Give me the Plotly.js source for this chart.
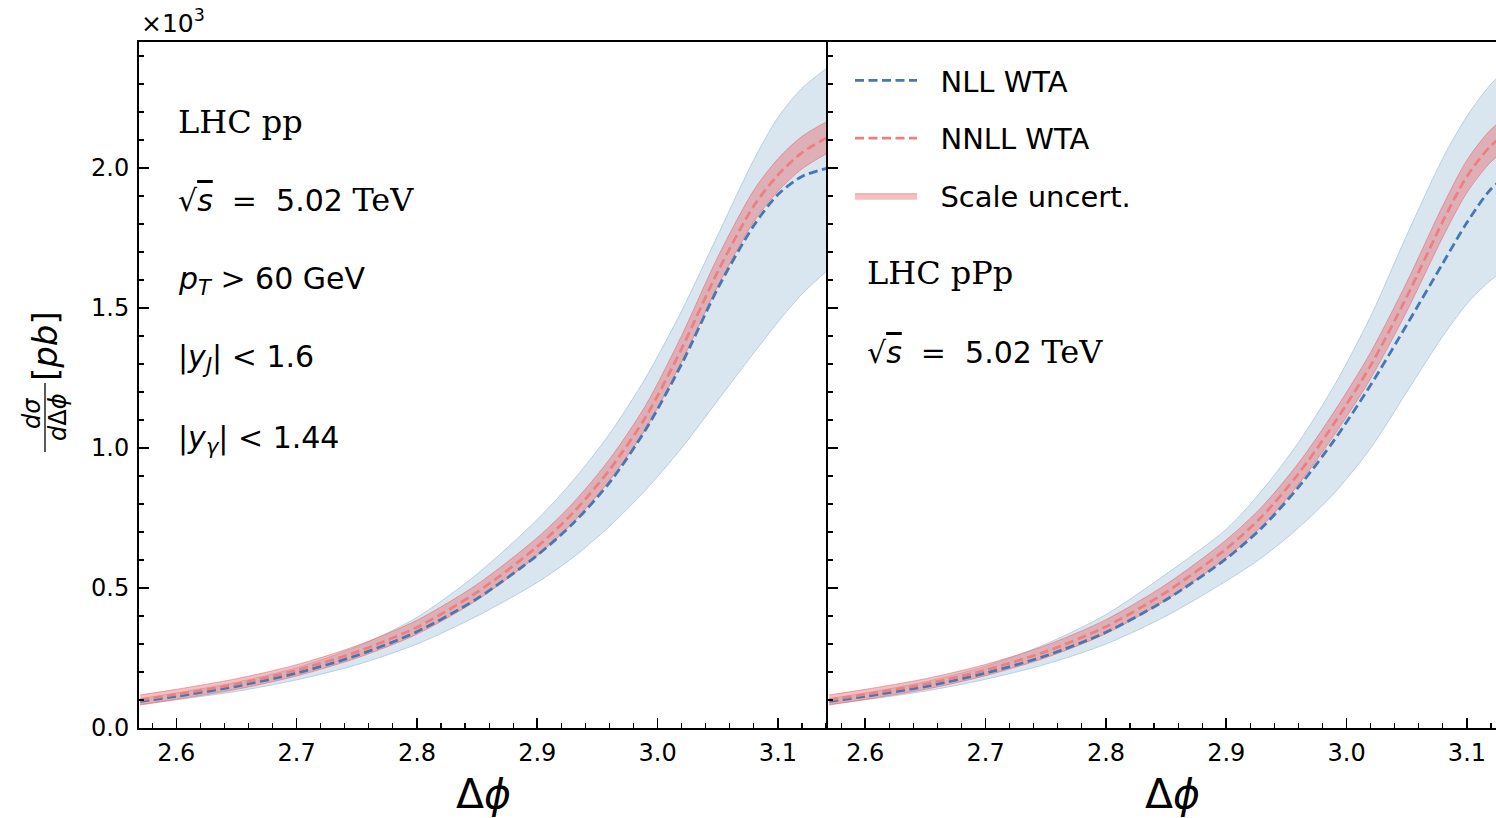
<!DOCTYPE html>
<html>
<head>
<meta charset="utf-8">
<script src="https://cdn.plot.ly/plotly-3.0.1.min.js"></script>
<style>
html,body{margin:0;padding:0;overflow:hidden;background:#fff;}
#plot{width:1518px;height:818px;}
</style>
</head>
<body>
<div id="plot"></div>
<script>
// Delta phi grid
const dphi = [2.57, 2.60, 2.65, 2.70, 2.75, 2.80, 2.85, 2.90, 2.93, 2.96, 2.99, 3.02, 3.05, 3.08, 3.10, 3.12, 3.1416];

// Left panel: LHC pp (values in units of 10^3 pb)
const ppNLL      = [0.095, 0.113, 0.149, 0.196, 0.259, 0.344, 0.462, 0.617, 0.732, 0.876, 1.065, 1.300, 1.570, 1.795, 1.905, 1.970, 2.000];
const ppNLLup    = [0.105, 0.125, 0.163, 0.215, 0.290, 0.395, 0.550, 0.745, 0.885, 1.050, 1.250, 1.490, 1.760, 2.030, 2.180, 2.285, 2.360];
const ppNLLlo    = [0.085, 0.101, 0.131, 0.172, 0.226, 0.300, 0.400, 0.520, 0.610, 0.720, 0.850, 1.000, 1.170, 1.340, 1.450, 1.550, 1.636];
const ppNNLL     = [0.100, 0.120, 0.157, 0.206, 0.272, 0.360, 0.485, 0.648, 0.770, 0.922, 1.110, 1.355, 1.630, 1.865, 1.975, 2.055, 2.110];
const ppNNLLup   = [0.118, 0.138, 0.176, 0.226, 0.294, 0.385, 0.513, 0.680, 0.805, 0.960, 1.152, 1.402, 1.682, 1.921, 2.033, 2.113, 2.168];
const ppNNLLlo   = [0.082, 0.102, 0.138, 0.186, 0.250, 0.335, 0.457, 0.616, 0.735, 0.884, 1.068, 1.308, 1.578, 1.809, 1.917, 1.997, 2.054];

// Right panel: LHC pPp
const pPpNLL     = [0.095, 0.113, 0.148, 0.196, 0.258, 0.342, 0.458, 0.605, 0.717, 0.860, 1.030, 1.225, 1.440, 1.660, 1.805, 1.925, 2.000];
const pPpNLLup   = [0.105, 0.125, 0.165, 0.220, 0.300, 0.405, 0.550, 0.710, 0.850, 1.020, 1.225, 1.470, 1.760, 2.035, 2.185, 2.300, 2.390];
const pPpNLLlo   = [0.085, 0.101, 0.132, 0.174, 0.228, 0.300, 0.400, 0.525, 0.610, 0.715, 0.840, 1.000, 1.200, 1.400, 1.515, 1.600, 1.660];
const pPpNNLL    = [0.100, 0.120, 0.157, 0.207, 0.273, 0.362, 0.485, 0.640, 0.757, 0.908, 1.090, 1.295, 1.540, 1.810, 1.970, 2.080, 2.150];
const pPpNNLLup  = [0.118, 0.138, 0.176, 0.227, 0.295, 0.387, 0.513, 0.672, 0.792, 0.946, 1.132, 1.342, 1.592, 1.866, 2.028, 2.138, 2.207];
const pPpNNLLlo  = [0.082, 0.102, 0.138, 0.187, 0.251, 0.337, 0.457, 0.608, 0.722, 0.870, 1.048, 1.248, 1.488, 1.754, 1.912, 2.022, 2.093];

const seriesNames = ["NLL WTA", "NNLL WTA", "Scale uncert."];
const xTickVals = [2.6, 2.7, 2.8, 2.9, 3.0, 3.1];
const yTickVals = [0.0, 0.5, 1.0, 1.5, 2.0];

const BLUE = '#4677b0', RED = '#ec8080';
const BLUEFILL = '#d9e5ef', BLUEEDGE = '#b9cfe2';
const REDFILL = 'rgba(230,100,105,0.42)', REDEDGE = 'rgba(230,100,105,0.55)';
const DASH = '9px,4.5px';
const NB = '\u00a0\u00a0';

function panel(xa, ya, nll, nllUp, nllLo, nnll, nnllUp, nnllLo, legend) {
  const sp = {shape: 'spline', smoothing: 0.8};
  return [
    {x: dphi, y: nllLo, xaxis: xa, yaxis: ya, mode: 'lines', line: Object.assign({color: BLUEEDGE, width: 1}, sp),
     showlegend: false, hoverinfo: 'skip'},
    {x: dphi, y: nllUp, xaxis: xa, yaxis: ya, mode: 'lines', fill: 'tonexty', fillcolor: BLUEFILL,
     line: Object.assign({color: BLUEEDGE, width: 1}, sp), showlegend: false, hoverinfo: 'skip'},
    {x: dphi, y: nnllLo, xaxis: xa, yaxis: ya, mode: 'lines', line: Object.assign({color: REDEDGE, width: 1}, sp),
     showlegend: false, hoverinfo: 'skip'},
    {x: dphi, y: nnllUp, xaxis: xa, yaxis: ya, mode: 'lines', fill: 'tonexty', fillcolor: REDFILL,
     line: Object.assign({color: REDEDGE, width: 1}, sp), name: NB + seriesNames[2], showlegend: legend,
     legendgroup: 'c', legendrank: 3},
    {x: dphi, y: nll, xaxis: xa, yaxis: ya, mode: 'lines', line: Object.assign({color: BLUE, width: 2.8, dash: DASH}, sp),
     name: NB + seriesNames[0], showlegend: legend, legendgroup: 'a', legendrank: 1},
    {x: dphi, y: nnll, xaxis: xa, yaxis: ya, mode: 'lines', line: Object.assign({color: RED, width: 2.8, dash: DASH}, sp),
     name: NB + seriesNames[1], showlegend: legend, legendgroup: 'b', legendrank: 2}
  ];
}

const data = [].concat(
  panel('x', 'y', ppNLL, ppNLLup, ppNLLlo, ppNNLL, ppNNLLup, ppNNLLlo, true),
  panel('x2', 'y2', pPpNLL, pPpNLLup, pPpNLLlo, pPpNNLL, pPpNNLLup, pPpNNLLlo, false)
);

const TICKFONT = {family: 'DejaVu Sans', size: 24, color: '#000'};
function xax(domain, anchor) {
  return {
    domain: domain, anchor: anchor, range: [2.569, 3.1416],
    tickmode: 'array', tickvals: xTickVals, ticktext: xTickVals.map(v => v.toFixed(1)),
    ticks: 'inside', ticklen: 10, tickwidth: 1.6, tickcolor: '#000',
    minor: {dtick: 0.02, tick0: 2.6, ticks: 'inside', ticklen: 5, tickwidth: 1.2, tickcolor: '#000', showgrid: false},
    showline: true, linecolor: '#000', linewidth: 2, mirror: true, showgrid: false, zeroline: false,
    tickfont: TICKFONT, ticklabelstandoff: 2,
    title: {text: 'Δ<i>ϕ</i>', font: {family: 'DejaVu Sans', size: 41, color: '#000'}, standoff: 14}
  };
}
function yax(anchor, labels) {
  return {
    anchor: anchor, range: [0, 2.45], domain: [0, 1],
    tickmode: 'array', tickvals: yTickVals, ticktext: yTickVals.map(v => v.toFixed(1)),
    showticklabels: labels,
    ticks: 'inside', ticklen: 10, tickwidth: 1.6, tickcolor: '#000',
    minor: {dtick: 0.1, tick0: 0, ticks: 'inside', ticklen: 5, tickwidth: 1.2, tickcolor: '#000', showgrid: false},
    showline: true, linecolor: '#000', linewidth: 2, mirror: false, showgrid: false, zeroline: false,
    tickfont: TICKFONT, ticklabelstandoff: 3
  };
}

// pixel helpers for paper coordinates (plot area: x 139..1517, y 42..728)
const PX = p => (p - 139) / 1378;
const PY = p => (728 - p) / 686;

const SERIF = "font-family:DejaVu Serif";
const TXT = {family: 'DejaVu Sans', size: 30, color: '#000'};
const SRF = {family: 'DejaVu Serif', size: 32, color: '#000'};
function ann(text, px, py, font, extra) {
  return Object.assign({text: text, xref: 'paper', yref: 'paper', x: PX(px), y: PY(py),
    xanchor: 'left', yanchor: 'middle', showarrow: false, font: font}, extra || {});
}
const sqrtS = "√<span style='text-decoration:overline'><i>s</i></span>&nbsp;&nbsp;<span style='" + SERIF + "'>=</span>&nbsp;&nbsp;5.02&nbsp;<span style='" + SERIF + ";font-size:32px'>TeV</span>";

const annotations = [
  ann('×10<sup>3</sup>', 139, 22, {family: 'DejaVu Sans', size: 25, color: '#000'}),
  ann('LHC pp', 176, 122, SRF),
  ann(sqrtS, 176, 200, TXT),
  ann("<i>p</i><sub><i>T</i></sub> <span style='" + SERIF + "'>&gt;</span> 60 GeV", 176, 280, TXT),
  ann("|<i>y</i><sub><i>J</i></sub>| <span style='" + SERIF + "'>&lt;</span> 1.6", 176, 358, TXT),
  ann("|<i>y</i><sub><i>γ</i></sub>| <span style='" + SERIF + "'>&lt;</span> 1.44", 176, 439, TXT),
  ann('LHC pPp', 865, 273, SRF),
  ann(sqrtS, 865, 352, TXT),
  // y-axis label: d sigma / d Delta phi [pb]
  ann('[<i>pb</i>]', 45, 346, {family: 'DejaVu Sans', size: 34, color: '#000'}, {xanchor: 'center', textangle: -90}),
  ann('<i>dσ</i>', 32, 414, {family: 'DejaVu Sans', size: 24, color: '#000'}, {xanchor: 'center', textangle: -90}),
  ann('<i>d</i>Δ<i>ϕ</i>', 58, 417, {family: 'DejaVu Sans', size: 24, color: '#000'}, {xanchor: 'center', textangle: -90})
];

const shapes = [
  {type: 'line', xref: 'paper', yref: 'paper', x0: PX(45), x1: PX(45), y0: PY(383), y1: PY(452),
   line: {color: '#000', width: 1.3}}
];

const layout = {
  width: 1518, height: 818,
  margin: {l: 139, r: 1, t: 42, b: 90},
  paper_bgcolor: '#fff', plot_bgcolor: '#fff',
  showlegend: true,
  legend: {x: PX(850), y: PY(55), xanchor: 'left', yanchor: 'top', bgcolor: 'rgba(0,0,0,0)',
    font: {family: 'DejaVu Sans', size: 29, color: '#000'}, tracegroupgap: 17, itemwidth: 62,
    traceorder: 'grouped'},
  xaxis: xax([0, 0.5], 'y'),
  xaxis2: xax([0.5, 1], 'y2'),
  yaxis: yax('x', true),
  yaxis2: yax('x2', false),
  annotations: annotations,
  shapes: shapes
};

Plotly.newPlot('plot', data, layout, {displayModeBar: false, staticPlot: true});
</script>
</body>
</html>
